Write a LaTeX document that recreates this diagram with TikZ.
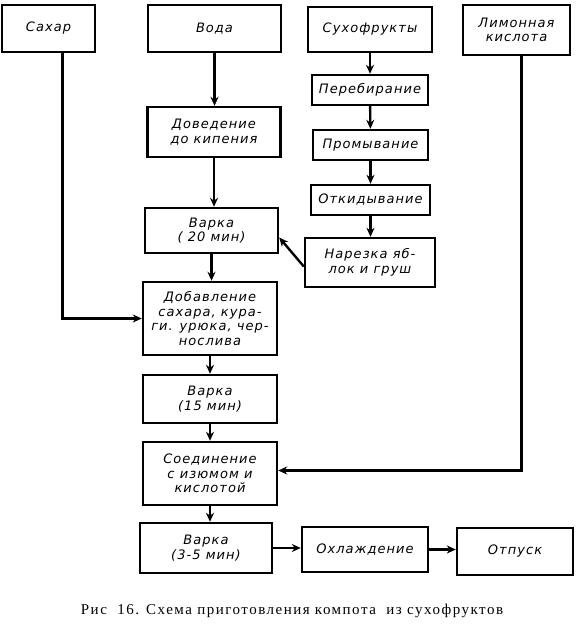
\documentclass[tikz,border=0pt]{standalone}
\usepackage{fontspec}
\setmainfont{Liberation Serif}
\newfontfamily\flowfont[LetterSpace=8]{DejaVu Sans}
\newfontfamily\capfont[LetterSpace=10]{Liberation Serif}
\usetikzlibrary{arrows.meta}

\begin{document}
\begin{tikzpicture}[x=1pt,y=-1pt,
  box/.style={draw,line width=2.4pt,align=center,inner sep=0pt,
    font=\flowfont\itshape\fontsize{13}{14.5}\selectfont},
  flow/.style={line width=2.4pt,-{Stealth[length=9pt,width=8pt]}}]
\useasboundingbox (0,0) rectangle (583,626);
\node[box,minimum width=93pt,minimum height=47pt] (sugar) at (48.5,28.5) {Сахар};
\node[box,minimum width=133pt,minimum height=47pt] (water) at (214.5,28.5) {Вода};
\node[box,minimum width=124pt,minimum height=45pt] (dried) at (370,29.5) {Сухофрукты};
\node[box,minimum width=107pt,minimum height=50pt] (lemon) at (516.5,30) {Лимонная\\кислота};
\node[box,minimum width=116pt,minimum height=30pt] (sort) at (370,90) {Перебирание};
\node[box,minimum width=115pt,minimum height=30pt] (wash) at (370.5,145) {Промывание};
\node[box,minimum width=119pt,minimum height=30pt] (drain) at (370.5,200) {Откидывание};
\node[box,minimum width=130pt,minimum height=49pt] (cut) at (370,262.5) {Нарезка яб-\\лок и груш};
\node[box,minimum width=133pt,minimum height=50pt] (boil) at (214,132) {Доведение\\до кипения};
\node[box,minimum width=133pt,minimum height=45pt] (cookA) at (211.5,230.5) {Варка\\( 20 мин)};
\node[box,minimum width=134pt,minimum height=73pt] (add) at (210,318.5) {Добавление\\сахара, кура-\\ги. урюка, чер-\\нослива};
\node[box,minimum width=134pt,minimum height=48pt] (cookB) at (210,399) {Варка\\(15 мин)};
\node[box,minimum width=134pt,minimum height=63pt] (join) at (210,473.5) {Соединение\\с изюмом и\\кислотой};
\node[box,minimum width=132pt,minimum height=50pt] (cookC) at (206,548) {Варка\\(3-5 мин)};
\node[box,minimum width=126pt,minimum height=45pt] (cool) at (365,549.5) {Охлаждение};
\node[box,minimum width=116pt,minimum height=47pt] (serve) at (515,551.5) {Отпуск};
\node[font=\capfont\fontsize{15}{17}\selectfont] (caption) at (292,611) {Рис\ \ 16. Схема приготовления компота\ \ из сухофруктов};
\draw[flow] (water) -- (water |- boil.north);
\draw[flow] (boil.south) -- (boil.south |- cookA.north);
\draw[flow] (cookA) -- (cookA |- add.north);
\draw[flow] (add) -- (add |- cookB.north);
\draw[flow] (cookB) -- (join);
\draw[flow] (join) -- (join |- cookC.north);
\draw[flow] (dried) -- (sort);
\draw[flow] (sort) -- (wash);
\draw[flow] (wash) -- (drain);
\draw[flow] (drain) -- (drain |- cut.north);
\draw[flow] ([yshift=-4pt]cut.west) -- ([yshift=-7pt]cookA.east);
\draw[flow] ([xshift=14pt]sugar.south) |- (add.west);
\draw[flow] ([xshift=5pt]lemon.south) |- ([yshift=3pt]join.east);
\draw[flow] (cookC) -- (cookC -| cool.west);
\draw[flow] (cool) -- (cool -| serve.west);
\end{tikzpicture}
\end{document}
